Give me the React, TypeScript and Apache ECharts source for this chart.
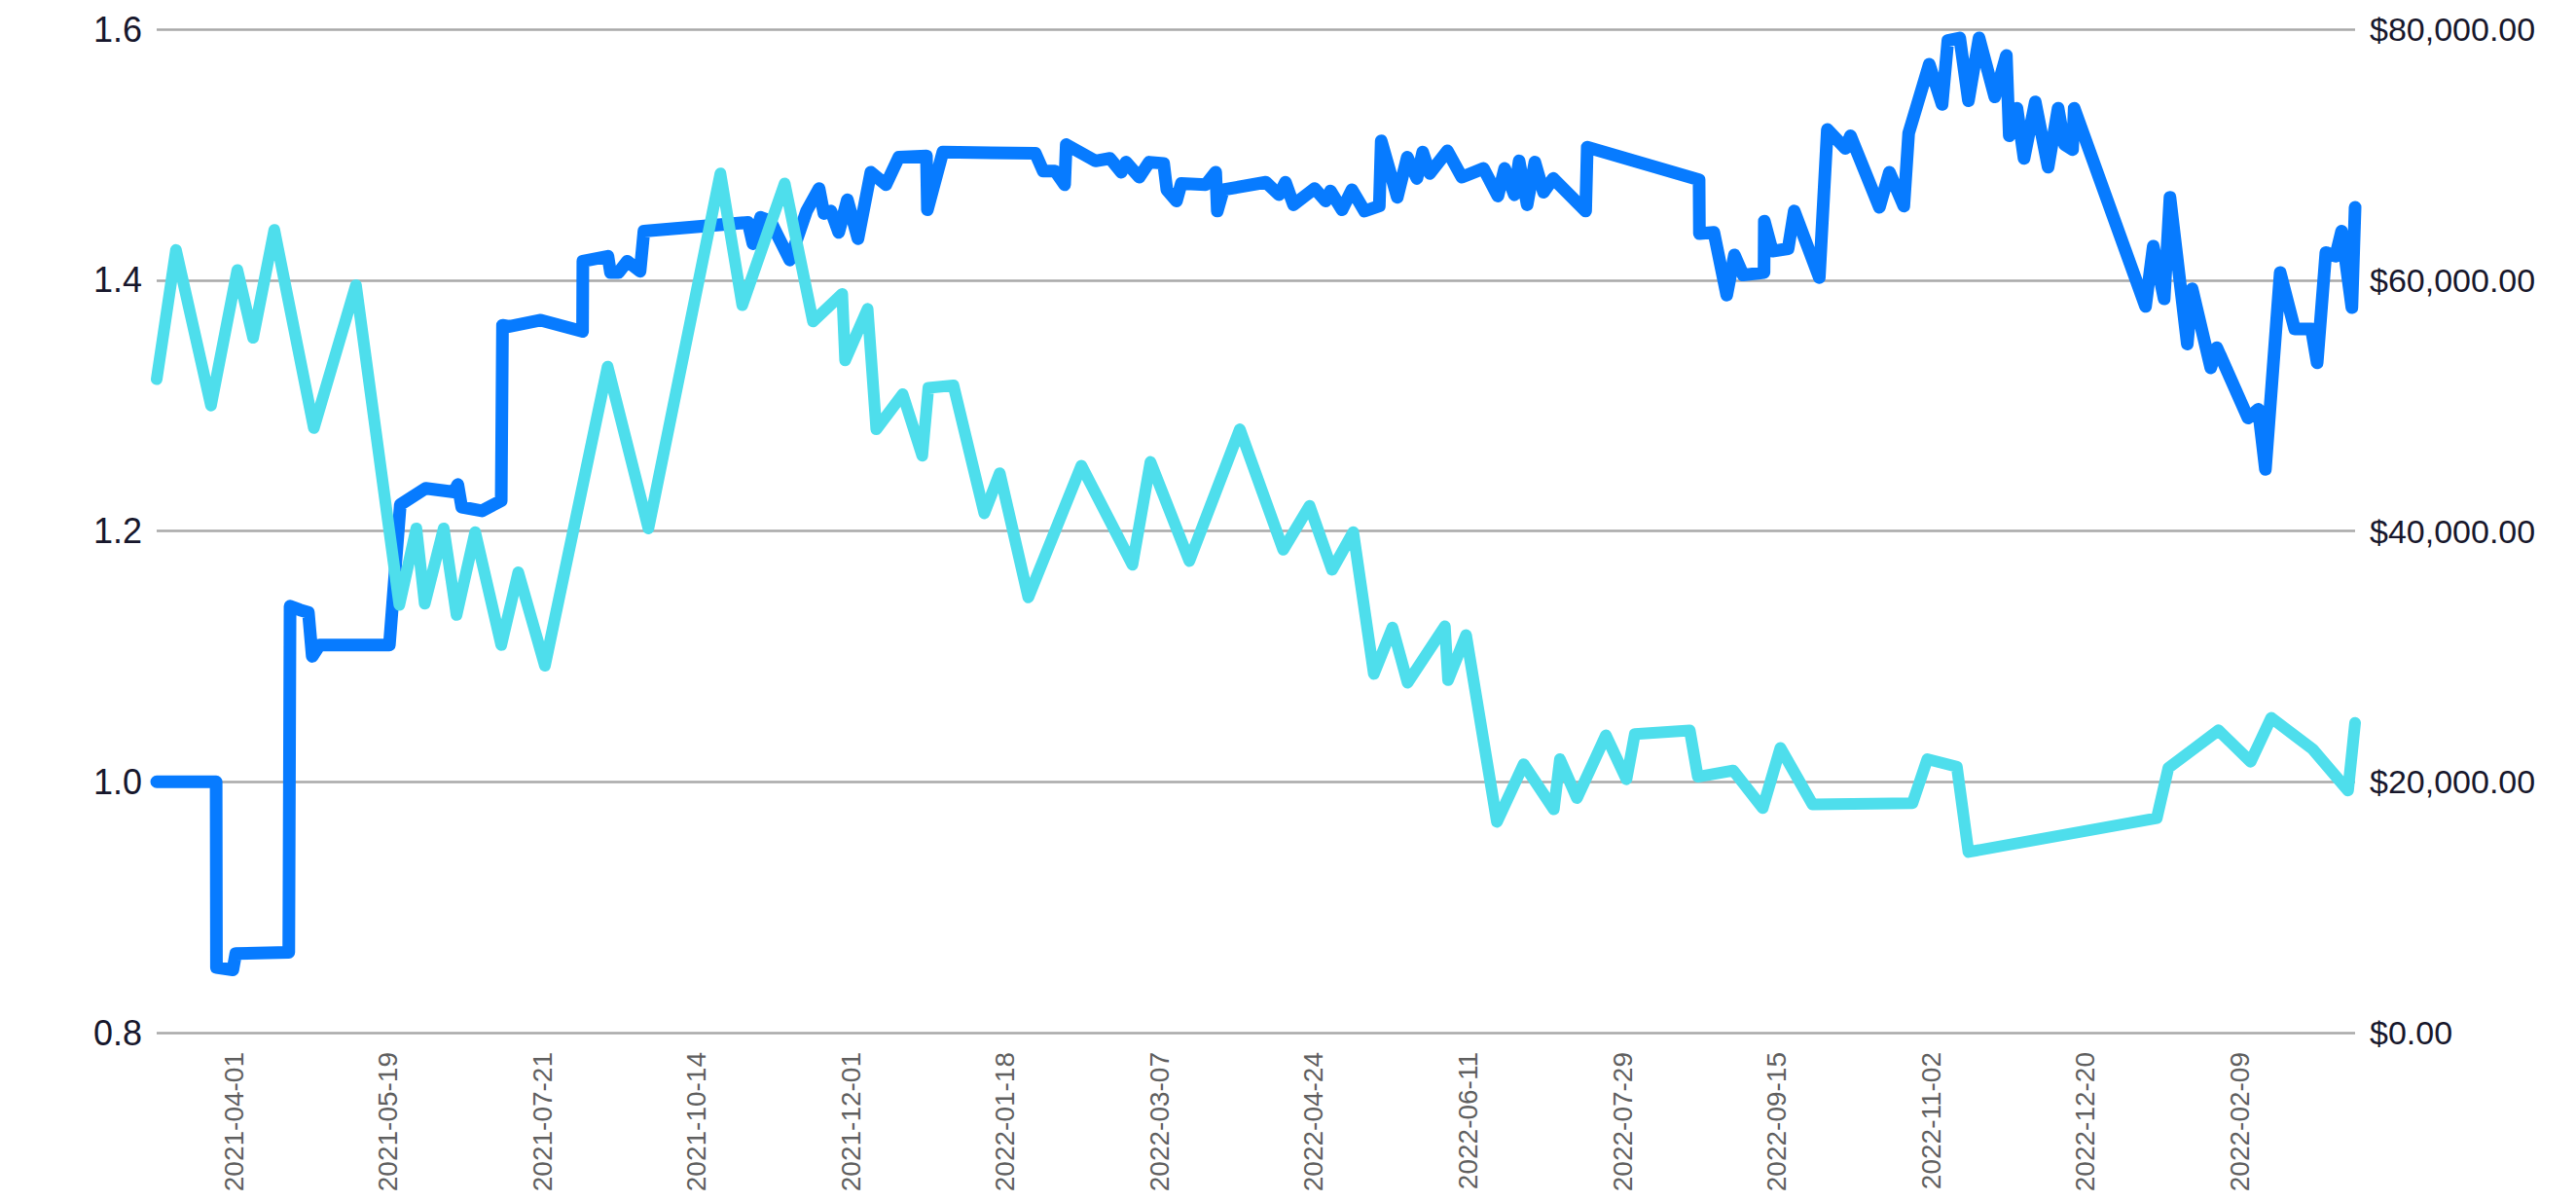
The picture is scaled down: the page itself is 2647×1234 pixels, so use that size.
import React, { useEffect, useRef } from "react";
import * as echarts from "echarts";

// Tick labels shown along the x axis (one every 48 positions, first at position 0)
const tickLabels = [
  "2021-04-01", "2021-05-19", "2021-07-21", "2021-10-14", "2021-12-01",
  "2022-01-18", "2022-03-07", "2022-04-24", "2022-06-11", "2022-07-29",
  "2022-09-15", "2022-11-02", "2022-12-20", "2022-02-09",
];
const labelStep = 48;
const axisStart = -24;
const axisEnd = 660;

// Dark blue series (left axis, ratio): positions along the x axis and values
const ratioPos = [
  -24, -5.5, -5.4, -0.3, 0.6, 17.1, 17.5, 20.6, 23.2, 24.4, 26.7, 48.4, 51.8, 59.7, 68.5, 69.7,
  70.9, 77.2, 83.2, 83.6, 85.8, 95.5, 108.5, 108.6, 116.4, 117.2, 119.7, 122.4, 126.4, 127.6,
  160, 161.5, 163.9, 167, 169.1, 173, 178.2, 182.1, 183.6, 185.8, 188.2, 190.9, 194.2, 198.2,
  202.9, 206.9, 215.5, 215.8, 220.6, 249.4, 251.8, 255.5, 258.5, 259, 268.1, 272.6, 276.1, 277.6,
  281.7, 284.8, 289.3, 290.3, 293.3, 294.8, 302.4, 305.5, 306, 307.9, 321.1, 325.2, 327.2, 329.7,
  336.3, 339.7, 341.2, 344.8, 347.9, 351.8, 356.4, 357, 362, 365.1, 368.1, 369.9, 372.1, 377.6,
  382.1, 388.8, 393.3, 395.4, 398.4, 399.9, 402.4, 404.8, 407.5, 410.5, 420.6, 421.1, 455.9, 456,
  460.5, 464.5, 466.9, 469.6, 476.1, 476.2, 478.7, 483.6, 485.5, 493.3, 495.8, 501.4, 503, 512,
  515.1, 519.6, 521.1, 527.5, 531.5, 533.3, 537, 539.7, 543, 547.9, 551.5, 552.4, 554.8, 557,
  560.5, 564.5, 567.6, 569.6, 572.1, 572.6, 594.8, 597.2, 600.6, 602.4, 607.8, 609.3, 615.1, 617,
  626.7, 629.9, 632.1, 636.7, 641.2, 646.4, 648.2, 650.9, 653.9, 655.8, 659, 660,
];
const ratioValues = [
  1.0, 1.0, 0.852, 0.85, 0.863, 0.864, 1.14, 1.137, 1.135, 1.1, 1.109, 1.109, 1.221, 1.234, 1.231, 1.237,
  1.219, 1.216, 1.224, 1.364, 1.363, 1.368, 1.359, 1.415, 1.419, 1.406, 1.406, 1.415, 1.407, 1.439,
  1.446, 1.429, 1.45, 1.447, 1.436, 1.416, 1.455, 1.473, 1.453, 1.455, 1.438, 1.464, 1.433, 1.486,
  1.476, 1.498, 1.499, 1.456, 1.502, 1.501, 1.487, 1.487, 1.476, 1.508, 1.495, 1.497, 1.486, 1.494,
  1.482, 1.494, 1.493, 1.472, 1.463, 1.477, 1.476, 1.486, 1.455, 1.472, 1.478, 1.468, 1.478, 1.46,
  1.473, 1.463, 1.471, 1.456, 1.472, 1.455, 1.459, 1.511, 1.466, 1.498, 1.481, 1.502, 1.485, 1.503,
  1.482, 1.489, 1.467, 1.489, 1.468, 1.495, 1.46, 1.494, 1.47, 1.481, 1.455, 1.506, 1.48, 1.437,
  1.438, 1.388, 1.42, 1.404, 1.406, 1.447, 1.423, 1.425, 1.455, 1.402, 1.52, 1.505, 1.515, 1.458,
  1.486, 1.459, 1.517, 1.572, 1.54, 1.591, 1.593, 1.543, 1.593, 1.546, 1.579, 1.515, 1.537, 1.497,
  1.542, 1.49, 1.537, 1.508, 1.504, 1.537, 1.379, 1.427, 1.385, 1.466, 1.349, 1.393, 1.33, 1.346,
  1.29, 1.297, 1.249, 1.406, 1.361, 1.361, 1.334, 1.422, 1.419, 1.439, 1.378, 1.458,
];

// Cyan series (right axis, price in $)
const pricePos = [
  -24, -18, -7.1, 1.1, 6, 12.6, 24.9, 38, 51.5, 56.8, 59.4, 65.3, 69.3, 75.1, 83.2, 88.5, 96.8,
  116.3, 129, 151.4, 158.2, 171.4, 180.2, 189.3, 190.2, 197.2, 199.9, 208.1, 214.2, 216.1, 223.9,
  233.5, 238.3, 247.2, 263.7, 279.6, 285.2, 297.3, 313, 326.5, 334.7, 341.7, 348.3, 354.7, 360.5,
  365.2, 376.8, 377.8, 383.4, 393, 401.3, 410.7, 412.6, 417.9, 426.9, 433.3, 435.9, 453, 455.5,
  466.5, 475.7, 481.2, 491.2, 522.3, 526.9, 536.1, 539.7, 598.3, 601.9, 617.5, 627.5, 633.9,
  646.8, 657.8, 660,
];
const priceValues = [
  52100, 62400, 50000, 60800, 55400, 64000, 48200, 59600, 34100, 40200, 34200, 40200, 33300, 39900,
  30900, 36700, 29250, 53100, 40200, 68500, 58000, 67700, 56700, 58900, 53600, 57700, 48100, 50900,
  46000, 51400, 51600, 41400, 44600, 34700, 45200, 37300, 45500, 37600, 48100, 38500, 42000, 36900,
  39900, 28600, 32300, 27900, 32400, 28100, 31700, 16800, 21400, 17800, 21800, 18700, 23700, 20200,
  23800, 24100, 20400, 20900, 17900, 22700, 18200, 18300, 21800, 21200, 14400, 17100, 21100, 24100,
  21600, 25100, 22600, 19300, 24700,
];

const leftTicks = { min: 0.8, max: 1.6, interval: 0.2 };
const rightTicks = { min: 0, max: 80000, interval: 20000 };

const BLUE = "#077BFF";
const CYAN = "#4EDEEC";

export default function App() {
  const ref = useRef<HTMLDivElement>(null);

  useEffect(() => {
    if (!ref.current) return;
    const chart = echarts.init(ref.current, undefined, { renderer: "svg" });
    const ratioData = ratioPos.map((p, i) => [p, ratioValues[i]]);
    const priceData = pricePos.map((p, i) => [p, priceValues[i]]);
    const labelFont = "'Liberation Sans', Arial, Helvetica, sans-serif";

    chart.setOption({
      animation: false,
      backgroundColor: "#ffffff",
      grid: { left: 161, right: 227, top: 30, bottom: 173, containLabel: false },
      xAxis: {
        type: "value",
        min: axisStart,
        max: axisEnd,
        axisLine: { show: false },
        axisTick: { show: false },
        splitLine: { show: false },
        axisLabel: {
          customValues: tickLabels.map((_, i) => i * labelStep),
          rotate: 90,
          margin: 20,
          fontSize: 28,
          color: "#5f5f5f",
          fontFamily: labelFont,
          formatter: (v: number) => {
            const k = v / labelStep;
            return Number.isInteger(k) && tickLabels[k] ? tickLabels[k] : "";
          },
        },
      },
      yAxis: [
        {
          type: "value",
          position: "left",
          min: leftTicks.min,
          max: leftTicks.max,
          interval: leftTicks.interval,
          axisLine: { show: false },
          axisTick: { show: false },
          splitLine: { show: true, lineStyle: { color: "#a9a9a9", width: 2.5 } },
          axisLabel: {
            margin: 15,
            fontSize: 36,
            color: "#17172c",
            fontFamily: labelFont,
            formatter: (v: number) => v.toFixed(1),
          },
        },
        {
          type: "value",
          position: "right",
          min: rightTicks.min,
          max: rightTicks.max,
          interval: rightTicks.interval,
          axisLine: { show: false },
          axisTick: { show: false },
          splitLine: { show: false },
          axisLabel: {
            margin: 15,
            fontSize: 34,
            color: "#17172c",
            fontFamily: labelFont,
            formatter: (v: number) =>
              "$" + v.toLocaleString("en-US", { minimumFractionDigits: 2, maximumFractionDigits: 2 }),
          },
        },
      ],
      series: [
        {
          name: "Ratio",
          type: "line",
          yAxisIndex: 0,
          data: ratioData,
          showSymbol: false,
          symbol: "none",
          lineStyle: { color: BLUE, width: 13, cap: "round", join: "round" },
          itemStyle: { color: BLUE },
        },
        {
          name: "Price",
          type: "line",
          yAxisIndex: 1,
          data: priceData,
          showSymbol: false,
          symbol: "none",
          lineStyle: { color: CYAN, width: 12, cap: "round", join: "round" },
          itemStyle: { color: CYAN },
        },
      ],
    });

    return () => chart.dispose();
  }, []);

  return (
    <div
      ref={ref}
      style={{ position: "fixed", left: 0, top: 0, width: 2647, height: 1234, background: "#fff" }}
    />
  );
}
